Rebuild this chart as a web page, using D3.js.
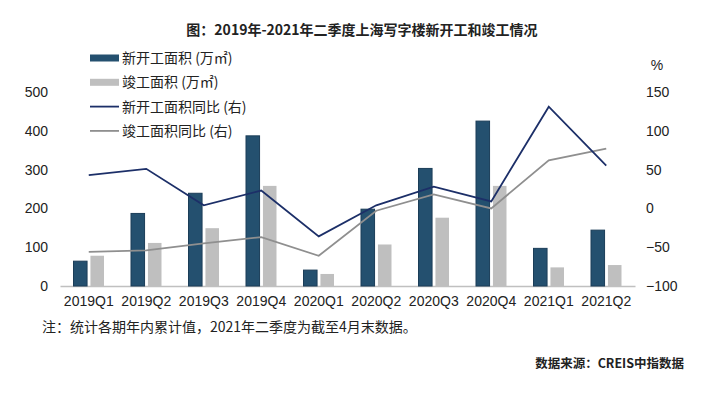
<!DOCTYPE html>
<html>
<head>
<meta charset="utf-8">
<script src="https://cdn.jsdelivr.net/npm/d3@7"></script>
<style>
  body { margin: 0; background: #fff; }
  svg text { font-family: "Liberation Sans", Arial, "Noto Sans CJK SC", sans-serif; }
  .cn { font-family: "Noto Sans CJK SC", sans-serif; }
</style>
</head>
<body>
<div id="chart"></div>
<script>
// --------------------------------------
//  Data
// --------------------------------------

const quarters = ["2019Q1", "2019Q2", "2019Q3", "2019Q4", "2020Q1", "2020Q2", "2020Q3", "2020Q4", "2021Q1", "2021Q2"];
const newStart = [64, 187, 239, 387, 41, 198, 303, 425, 97, 144];
const completed = [78, 111, 149, 258, 31, 107, 176, 258, 48, 54];
const newStartYoy = [43, 51, 4, 23, -36, 4, 28, 9, 131, 55];
const completedYoy = [-56, -54, -45, -37, -61, -3, 18, 0, 62, 77];
const leftTicks = [0, 100, 200, 300, 400, 500];
const rightTicks = [-100, -50, 0, 50, 100, 150];

const legendItems = [
  { label: "新开工面积 (万㎡)", type: "bar", color: "#24506f" },
  { label: "竣工面积 (万㎡)", type: "bar", color: "#bfbfbf" },
  { label: "新开工面积同比 (右)", type: "line", color: "#1c2f68" },
  { label: "竣工面积同比 (右)", type: "line", color: "#8f8f8f" }
];

const width = 704, height = 394;

// --------------------------------------
//  Canvas
// --------------------------------------

const svg = d3.select("#chart")
  .append("svg")
    .attr("width", width)
    .attr("height", height)
    .attr("viewBox", [0, 0, width, height]);

// --------------------------------------
// Scales
// --------------------------------------

const x0 = d3.scaleBand()
    .domain(quarters)
    .range([60, 635]);

const x1 = d3.scaleBand()
    .domain(["new", "done"])
    .range([13.5, 44])
    .paddingInner(0.2);

const yL = d3.scaleLinear()
    .domain([0, 500])
    .range([286, 92]);

const yR = d3.scaleLinear()
    .domain([-100, 150])
    .range([286, 92]);

const cx = q => x0(q) + x0.bandwidth() / 2;

// --------------------------------------
// Axes
// --------------------------------------

const axisL = svg.append("g")
    .attr("transform", "translate(48,0)")
    .call(d3.axisLeft(yL).tickValues(leftTicks).tickSize(0).tickPadding(0));
axisL.select(".domain").remove();
axisL.selectAll("text").attr("font-size", 14).attr("fill", "#222");

const axisR = svg.append("g")
    .attr("transform", "translate(646,0)")
    .call(d3.axisRight(yR).tickValues(rightTicks).tickSize(0).tickPadding(0));
axisR.select(".domain").remove();
axisR.selectAll("text").attr("font-size", 14).attr("fill", "#222");

svg.append("text")
    .attr("x", 657).attr("y", 70)
    .attr("text-anchor", "middle")
    .attr("font-size", 14).attr("fill", "#222")
    .text("%");

const axisB = svg.append("g")
    .attr("transform", "translate(0,286)")
    .call(d3.axisBottom(x0).tickSize(0).tickPadding(10));
axisB.select(".domain").attr("stroke", "#c0c0c0").attr("stroke-width", 1.5);
axisB.selectAll("text").attr("font-size", 14).attr("fill", "#222");

// --------------------------------------
// Bars
// --------------------------------------

svg.append("g")
  .selectAll("rect")
  .data(quarters)
  .join("rect")
    .attr("x", d => x0(d) + x1("new"))
    .attr("y", (d, i) => yL(newStart[i]))
    .attr("width", x1.bandwidth())
    .attr("height", (d, i) => yL(0) - yL(newStart[i]))
    .attr("fill", legendItems[0].color)
    .attr("stroke", "#1b3d58")
    .attr("stroke-width", 1);

svg.append("g")
  .selectAll("rect")
  .data(quarters)
  .join("rect")
    .attr("x", d => x0(d) + x1("done"))
    .attr("y", (d, i) => yL(completed[i]))
    .attr("width", x1.bandwidth())
    .attr("height", (d, i) => yL(0) - yL(completed[i]))
    .attr("fill", legendItems[1].color);

// --------------------------------------
// Lines
// --------------------------------------

const line = d3.line()
    .x((d, i) => cx(quarters[i]))
    .y(d => yR(d));

svg.append("path")
    .datum(completedYoy)
    .attr("d", line)
    .attr("fill", "none")
    .attr("stroke", legendItems[3].color)
    .attr("stroke-width", 1.8);

svg.append("path")
    .datum(newStartYoy)
    .attr("d", line)
    .attr("fill", "none")
    .attr("stroke", legendItems[2].color)
    .attr("stroke-width", 1.8);

// --------------------------------------
// Legend
// --------------------------------------

const legend = svg.append("g")
  .selectAll("g")
  .data(legendItems)
  .join("g")
    .attr("transform", (d, i) => `translate(90, ${58 + i * 24.3})`);

legend.filter(d => d.type === "bar")
  .append("rect")
    .attr("x", 0).attr("y", -3.5)
    .attr("width", 29).attr("height", 7)
    .attr("fill", d => d.color);

legend.filter(d => d.type === "line")
  .append("line")
    .attr("x1", 0).attr("x2", 29)
    .attr("stroke", d => d.color)
    .attr("stroke-width", 1.8);

legend.append("text")
    .attr("class", "cn")
    .attr("x", 32).attr("y", 5)
    .attr("font-size", 14)
    .attr("fill", "#222")
    .text(d => d.label);

// --------------------------------------
// Titles and notes
// --------------------------------------

svg.append("text")
    .attr("class", "cn")
    .attr("x", 362).attr("y", 35)
    .attr("text-anchor", "middle")
    .attr("font-size", 14).attr("font-weight", "bold")
    .attr("fill", "#222")
    .text("图：2019年-2021年二季度上海写字楼新开工和竣工情况");

svg.append("text")
    .attr("class", "cn")
    .attr("x", 42).attr("y", 332)
    .attr("font-size", 14)
    .attr("fill", "#222")
    .text("注：统计各期年内累计值，2021年二季度为截至4月末数据。");

svg.append("text")
    .attr("class", "cn")
    .attr("x", 684).attr("y", 368)
    .attr("text-anchor", "end")
    .attr("font-size", 12.5).attr("font-weight", "bold")
    .attr("fill", "#222")
    .text("数据来源：CREIS中指数据");
</script>
</body>
</html>
